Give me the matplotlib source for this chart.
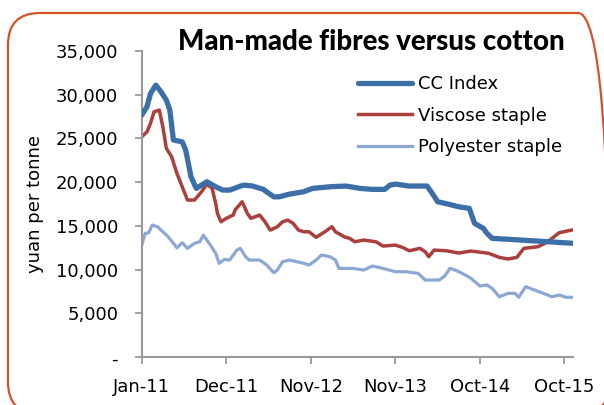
import matplotlib
matplotlib.use("Agg")
import matplotlib.pyplot as plt
from matplotlib.patches import FancyBboxPatch

# week index (weekly prices, Jan 2011 onwards) and yuan per tonne values
cc_weeks = [0, 3, 5, 8, 11, 14, 16, 18, 23, 25, 28, 31, 37, 42, 46, 50, 56, 58, 63, 69,
            75, 78, 84, 92, 97, 107, 116, 124, 131, 138, 141, 144, 152, 162, 165, 168,
            175, 180, 186, 189, 194, 196, 199, 209, 222, 231, 245]
cc_index = [27650, 28600, 30100, 31070, 30300, 29360, 28200, 24800, 24600, 23650, 20600,
            19280, 20040, 19470, 19090, 19090, 19540, 19660, 19550, 19170, 18320, 18320,
            18630, 18900, 19280, 19470, 19550, 19280, 19170, 19170, 19660, 19770, 19550,
            19550, 18710, 17760, 17440, 17180, 17000, 15290, 14720, 14150, 13580, 13460,
            13300, 13190, 13010]

viscose_weeks = [0, 3, 5, 7, 10, 12, 14, 17, 20, 23, 26, 30, 34, 37, 40, 42, 43, 45, 48,
                 52, 53, 57, 60, 62, 67, 70, 73, 77, 80, 83, 86, 89, 92, 95, 99, 104, 108,
                 110, 115, 118, 121, 126, 133, 137, 144, 148, 152, 158, 161, 163, 166, 173,
                 180, 187, 197, 203, 208, 213, 217, 225, 229, 233, 237, 244]
viscose = [25170, 25740, 26700, 28020, 28220, 26310, 23850, 22890, 21000, 19470, 17950,
           17950, 18900, 19770, 19280, 17570, 16430, 15470, 15860, 16240, 16810, 17760,
           16430, 15860, 16240, 15470, 14520, 14900, 15470, 15660, 15290, 14520, 14330,
           14330, 13690, 14330, 14900, 14330, 13760, 13580, 13190, 13380, 13190, 12700,
           12810, 12550, 12160, 12440, 12050, 11480, 12240, 12160, 11900, 12130, 11870,
           11410, 11220, 11410, 12440, 12620, 13010, 13580, 14220, 14520]

poly_weeks = [0, 2, 4, 6, 9, 12, 15, 18, 20, 23, 26, 30, 33, 35, 39, 42, 44, 47, 50, 54,
              56, 59, 61, 67, 71, 75, 77, 80, 84, 88, 92, 95, 99, 102, 107, 110, 112, 120,
              126, 131, 137, 144, 150, 157, 161, 169, 172, 175, 178, 182, 187, 192, 196,
              199, 203, 208, 212, 214, 218, 222, 228, 233, 237, 241, 245]
polyester = [12810, 14150, 14220, 15100, 14900, 14330, 13760, 13010, 12500, 13080, 12440,
             13010, 13190, 13950, 12810, 11870, 10730, 11180, 11100, 12240, 12440, 11480,
             11100, 11100, 10530, 9650, 9960, 10910, 11100, 10910, 10730, 10530, 11100,
             11670, 11480, 11100, 10150, 10150, 9960, 10420, 10150, 9770, 9770, 9580, 8820,
             8820, 9280, 10150, 9960, 9580, 9010, 8140, 8250, 7870, 6910, 7300, 7300, 6850,
             8060, 7760, 7300, 6910, 7110, 6850, 6850]

xtick_pos = [0, 48, 96, 144, 192, 240]
xtick_labels = ["Jan-11", "Dec-11", "Nov-12", "Nov-13", "Oct-14", "Oct-15"]
ytick_pos = [0, 5000, 10000, 15000, 20000, 25000, 30000, 35000]
ytick_labels = ["-", "5,000", "10,000", "15,000", "20,000", "25,000", "30,000", "35,000"]

plt.rcParams["font.family"] = ["DejaVu Sans"]

fig = plt.figure(figsize=(6.04, 4.05), dpi=100)
ax = fig.add_axes([0.2346, 0.1178, 0.949 - 0.2346, 0.8748 - 0.1178])

ax.plot(cc_weeks, cc_index, color="#3C6EA8", lw=3.8, label="CC Index",
        solid_capstyle="round", solid_joinstyle="round", zorder=3)
ax.plot(viscose_weeks, viscose, color="#A9403E", lw=2.5, label="Viscose staple",
        solid_joinstyle="round", zorder=2)
ax.plot(poly_weeks, polyester, color="#8CA8D2", lw=2.3, label="Polyester staple",
        solid_joinstyle="round", zorder=1)

ax.set_xlim(0, 245)
ax.set_ylim(0, 35000)
ax.set_xticks(xtick_pos)
ax.set_xticklabels(xtick_labels)
ax.set_yticks(ytick_pos)
ax.set_yticklabels(ytick_labels)
ax.tick_params(axis="both", direction="out", length=5, width=1.3, colors="#999999",
               labelcolor="black", labelsize=13)
ax.tick_params(axis="y", pad=12)
ax.tick_params(axis="x", pad=10)
for side in ("top", "right"):
    ax.spines[side].set_visible(False)
for side in ("left", "bottom"):
    ax.spines[side].set_color("#999999")
    ax.spines[side].set_linewidth(1.5)

ax.set_ylabel("yuan per tonne", fontsize=13)
ax.yaxis.set_label_coords(-0.226, 0.5)

fig.text(178 / 604, 1 - 50 / 405, "Man-made fibres versus cotton", fontsize=19.9,
         family=["Lato", "DejaVu Sans"], fontweight="black", va="baseline")

ax.legend(loc="upper left", bbox_to_anchor=(358 / 604, 1 - 75 / 405),
          bbox_transform=fig.transFigure, frameon=False, fontsize=13,
          handlelength=3.0, handletextpad=0.3, labelspacing=0.75,
          borderpad=0, borderaxespad=0)

border = FancyBboxPatch((0.08, -0.09), 6.02, 4.01, boxstyle="round,pad=0,rounding_size=0.32",
                        transform=fig.dpi_scale_trans, facecolor="none",
                        edgecolor="#D0542A", lw=1.6, clip_on=False)
fig.add_artist(border)

fig.savefig("out.png", dpi=100)
